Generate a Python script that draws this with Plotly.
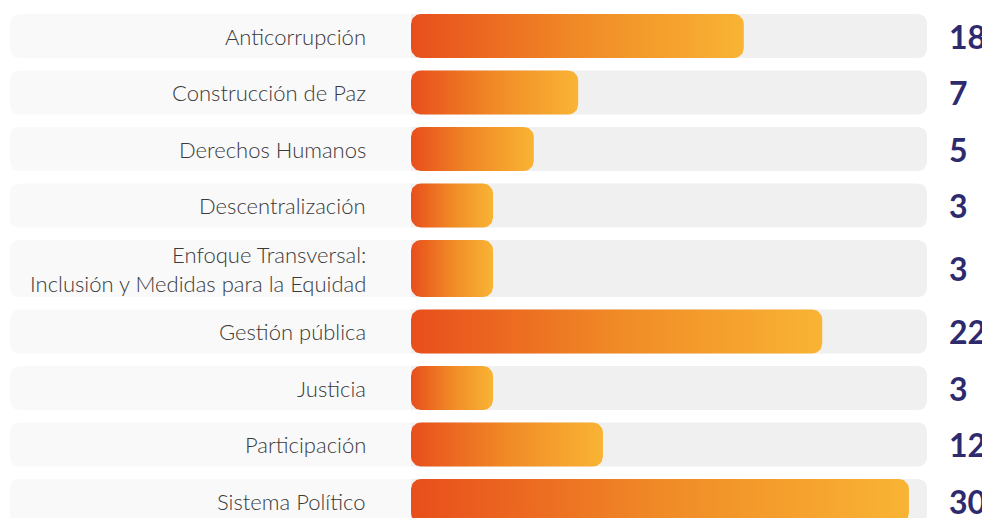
import math
import plotly.graph_objects as go

# ---------------- data ----------------
categories = [
    "Anticorrupción",
    "Construcción de Paz",
    "Derechos Humanos",
    "Descentralización",
    "Enfoque Transversal:<br>Inclusión y Medidas para la Equidad",
    "Gestión pública",
    "Justicia",
    "Participación",
    "Sistema Político",
]
counts = [18, 7, 5, 3, 3, 22, 3, 12, 30]
# bar length as share of the grey track (%)
bar_pct = [64.5, 32.4, 23.8, 15.9, 15.9, 79.7, 15.9, 37.2, 96.5]

# ---------------- layout constants (pixels of the 990x518 window) ----------------
WIN_W, WIN_H = 990, 518
PAGE_OFF = 8             # browser body margin
W, H = WIN_W - PAGE_OFF, WIN_H - PAGE_OFF
ORIGIN_PX = 411          # where a bar starts
TRACK_END_PX = 927       # right end of grey track
BOX_LEFT_PX = 10         # left end of label box
PX_PER_UNIT = (TRACK_END_PX - ORIGIN_PX) / 100.0
RADIUS_PX = 10
FIRST_TOP = 14
GAP = 12.5
row_heights = [57 if "<br>" in c else 44 for c in categories]


def to_x(px):
    return (px - ORIGIN_PX) / PX_PER_UNIT


def paper_x(px):
    return (px - PAGE_OFF) / W


rx = RADIUS_PX / PX_PER_UNIT
ry = RADIUS_PX


def rounded_path(x0, x1, y0, y1, left=True, right=True):
    p = []
    p.append(f"M{x0 + rx},{y0}" if left else f"M{x0},{y0}")
    if right:
        p.append(f"L{x1 - rx},{y0}")
        p.append(f"Q{x1},{y0} {x1},{y0 + ry}")
        p.append(f"L{x1},{y1 - ry}")
        p.append(f"Q{x1},{y1} {x1 - rx},{y1}")
    else:
        p.append(f"L{x1},{y0}")
        p.append(f"L{x1},{y1}")
    if left:
        p.append(f"L{x0 + rx},{y1}")
        p.append(f"Q{x0},{y1} {x0},{y1 - ry}")
        p.append(f"L{x0},{y0 + ry}")
        p.append(f"Q{x0},{y0} {x0 + rx},{y0}")
    else:
        p.append(f"L{x0},{y1}")
    p.append("Z")
    return " ".join(p)


def rounded_poly(x0, x1, y0, y1, n=10):
    xs, ys = [], []
    corners = [
        (x1 - rx, y0 + ry, -90, 0),
        (x1 - rx, y1 - ry, 0, 90),
        (x0 + rx, y1 - ry, 90, 180),
        (x0 + rx, y0 + ry, 180, 270),
    ]
    for cx, cy, a0, a1 in corners:
        for i in range(n + 1):
            a = math.radians(a0 + (a1 - a0) * i / n)
            xs.append(cx + rx * math.cos(a))
            ys.append(cy + ry * math.sin(a))
    xs.append(xs[0])
    ys.append(ys[0])
    return xs, ys


fig = go.Figure()
shapes = []
annotations = []

top = FIRST_TOP
for cat, cnt, pct, h in zip(categories, counts, bar_pct, row_heights):
    y0, y1 = top, top + h
    yc = (y0 + y1) / 2
    shapes.append(dict(type="path", xref="x", yref="y",
                       path=rounded_path(to_x(BOX_LEFT_PX), 0, y0, y1, left=True, right=False),
                       fillcolor="#F9F9F9", line=dict(width=0), layer="below"))
    shapes.append(dict(type="path", xref="x", yref="y",
                       path=rounded_path(0, 100, y0, y1, left=False, right=True),
                       fillcolor="#F0F0F0", line=dict(width=0), layer="below"))
    xs, ys = rounded_poly(0, pct, y0, y1)
    fig.add_trace(go.Scatter(
        x=xs, y=ys, mode="lines", fill="toself",
        line=dict(width=0, color="rgba(0,0,0,0)"),
        fillgradient=dict(type="horizontal",
                          colorscale=[[0, "#E84E1C"], [0.5, "#F08A26"], [1, "#F9B434"]]),
        hoverinfo="skip", showlegend=False,
    ))
    annotations.append(dict(x=paper_x(368), xref="paper", y=yc, yref="y",
                            text=cat, showarrow=False, xanchor="right", yanchor="middle",
                            align="right",
                            font=dict(family="Lato", size=22, color="#3A3A3A", weight=300)))
    annotations.append(dict(x=paper_x(947), xref="paper", y=yc, yref="y",
                            text=str(cnt), showarrow=False, xanchor="left", yanchor="middle",
                            font=dict(family="Lato", size=32, color="#2E2A6E", weight=700)))
    top = y1 + GAP

fig.update_layout(
    width=W, height=H,
    margin=dict(l=0, r=0, t=0, b=0),
    paper_bgcolor="white", plot_bgcolor="white",
    xaxis=dict(range=[to_x(PAGE_OFF), to_x(WIN_W)], visible=False, fixedrange=True),
    yaxis=dict(range=[PAGE_OFF + H, PAGE_OFF], visible=False, fixedrange=True),
    shapes=shapes, annotations=annotations, showlegend=False,
)

fig.write_html("out.html")
